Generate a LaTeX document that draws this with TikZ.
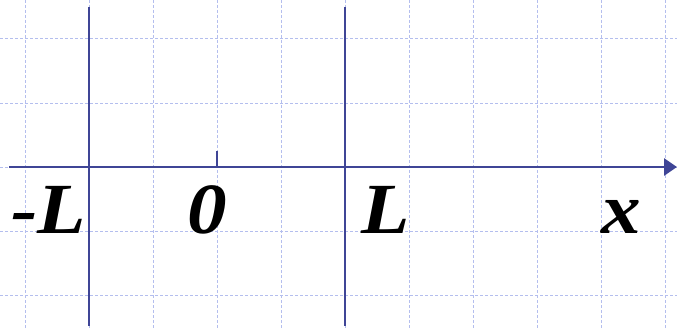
\documentclass[tikz,border=0pt]{standalone}
\usepackage{fontspec}
\setmainfont{Liberation Serif}
\usetikzlibrary{arrows.meta}
\definecolor{axisblue}{HTML}{3F4596}
\definecolor{gridblue}{HTML}{B4BEEE}
\tikzset{
  gridline/.style={draw=gridblue, line width=1pt, dash pattern=on 3pt off 2pt},
  axisline/.style={draw=axisblue, line width=2.8pt},
  lbl/.style={font=\fontsize{72}{72}\selectfont\bfseries\itshape, inner sep=0pt, anchor=base west, xscale=1.1, transform shape}
}
\begin{document}
\begin{tikzpicture}[x=1pt,y=-1pt]
\useasboundingbox (0,0) rectangle (677,329);
\fill[white] (0,0) rectangle (677,329);
% grid
\foreach \gx in {25,89,...,665} \draw[gridline] (\gx,0) -- (\gx,329);
\foreach \gy in {39,103,167,231,295} \draw[gridline] (0,\gy) -- (677,\gy);
% coordinates
\coordinate (axS) at (9,167);
\coordinate (axE) at (677,167);
\coordinate (lT) at (89,7);
\coordinate (lB) at (89,326);
\coordinate (rT) at (345,7);
\coordinate (rB) at (345,326);
\coordinate (tB) at (217,167);
\coordinate (tT) at (217,151);
% lines
\draw[axisline] (lT) -- (lB);
\draw[axisline] (rT) -- (rB);
\draw[axisline] (tB) -- (tT);
\draw[axisline, -{Triangle[length=13pt,width=17pt]}] (axS) -- (axE);
% labels
\node[lbl] (mL) at (11,233) {-L};
\node[lbl] (zero) at (187,233) {0};
\node[lbl] (L) at (361,233) {L};
\node[lbl] (x) at (601,233) {x};
\end{tikzpicture}
\end{document}
